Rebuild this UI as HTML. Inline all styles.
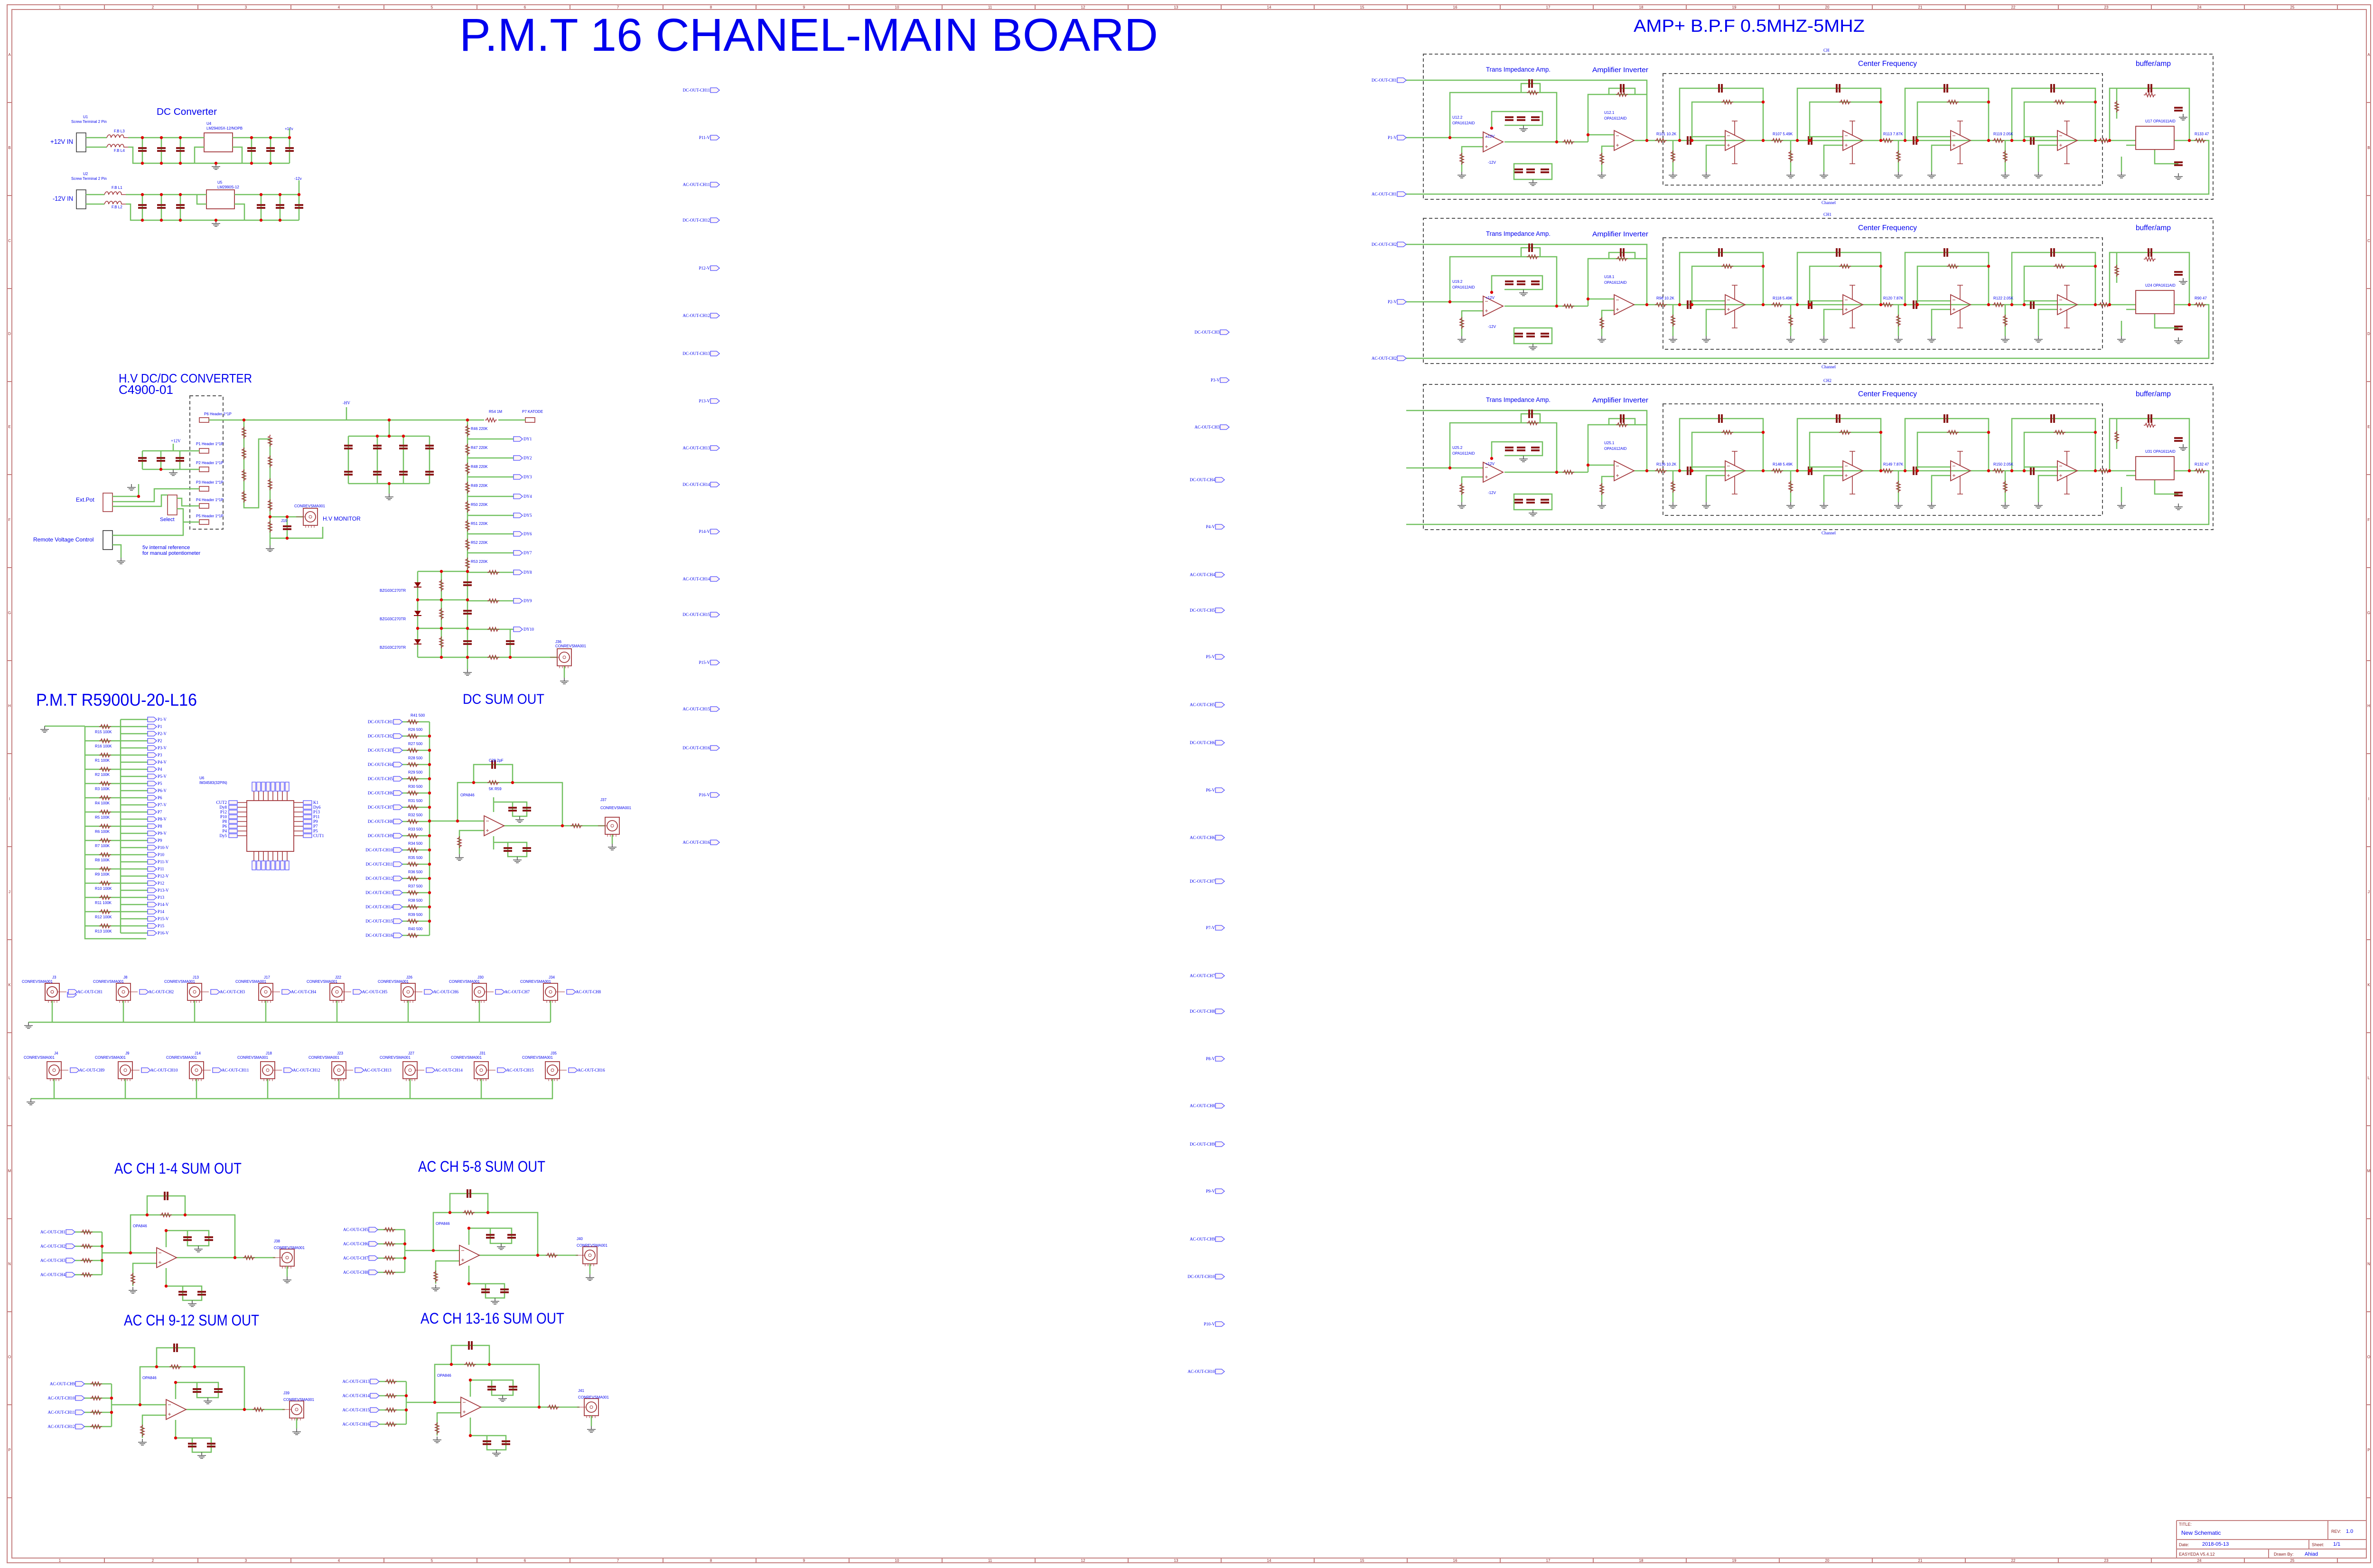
<!DOCTYPE html>
<html><head><meta charset="utf-8"><style>
html,body{margin:0;padding:0;background:#fff}
svg{display:block}
.w{stroke:#72c160;stroke-width:2.5;fill:none}
.b{stroke:#a3383c;stroke-width:1.6;fill:none}
.f{stroke:#c47f7f;stroke-width:2;fill:none}
.d{stroke:#555;stroke-width:2;fill:none;stroke-dasharray:7 5}
text{font-family:"Liberation Sans","DejaVu Sans",sans-serif;fill:#0000ee}
.s{font-size:9px;font-family:"Liberation Serif",serif}
.t{font-size:8px}
.r{fill:#8a2020}
</style></head><body>
<svg width="5010" height="3304" viewBox="0 0 5010 3304" xmlns="http://www.w3.org/2000/svg" xmlns:xlink="http://www.w3.org/1999/xlink">
<defs>
<g id="rh"><path d="M-13,0h3l2,-4l3,8l3,-8l3,8l3,-8l3,8l2,-4h3" fill="none" stroke="#a3383c" stroke-width="1.6"/></g>
<g id="rv"><path d="M0,-13v3l-4,2l8,3l-8,3l8,3l-8,3l8,3l-4,2v3" fill="none" stroke="#a3383c" stroke-width="1.6"/></g>
<g id="cp"><path d="M-3,-9v18M3,-9v18" stroke="#8b1a1a" stroke-width="4"/></g>
<g id="cv"><path d="M-9,-3h18M-9,3h18" stroke="#8b1a1a" stroke-width="4"/></g>
<g id="gnd"><path d="M0,0v7M-9,7h18M-6,10h12M-3,13h6" stroke="#555" stroke-width="1.6" fill="none"/></g>
<g id="oa"><path d="M0,-21L0,21L42,0Z" fill="none" stroke="#a3383c" stroke-width="1.8"/><path d="M4,-10h6M4,10h6M7,7v6" stroke="#a3383c"/></g>
<g id="dt"><circle r="3.2" fill="#d00"/></g>
<g id="nl"><path d="M0,-5h13l6,5l-6,5h-13z" fill="#fff4f6" stroke="#4a4aff" stroke-width="1.3"/></g>
<g id="bnc"><rect x="-15" y="-18" width="30" height="36" fill="none" stroke="#a3383c" stroke-width="1.8"/><circle r="11" fill="none" stroke="#a3383c" stroke-width="1.8"/><circle r="3" fill="none" stroke="#a3383c"/><path d="M-10,18v5M-4,18v5M2,18v5M8,18v5" stroke="#a3383c"/><path d="M-30,0h19" stroke="#a3383c"/></g>
<g id="stg">
<path class="w" d="M-96,296V186H80V296M-70,296V215H80M0,288H-70M0,306H-40V362M-110,296V362"/>
<use xlink:href="#cp" x="-10" y="186"/><use xlink:href="#rh" x="5" y="215"/><use xlink:href="#oa" x="0" y="296"/><use xlink:href="#rv" x="-110" y="330"/>
<use xlink:href="#gnd" x="-110" y="362"/><use xlink:href="#gnd" x="-40" y="362"/>
<path class="b" d="M20,286V255M20,306V345M14,255h12M14,345h12"/>
<use xlink:href="#dt" x="-96" y="296"/><use xlink:href="#dt" x="-70" y="296"/><use xlink:href="#dt" x="80" y="296"/><use xlink:href="#dt" x="80" y="215"/>
</g>
<g id="chg">
<rect class="d" x="2999" y="114" width="1664" height="306"/>
<rect class="d" x="3504" y="155" width="926" height="235"/>
<path class="w" d="M2963,169H3470V296M2963,290H3125M2963,409H4654V296H4630M3055,290V195H3280V299M3205,195V176H3245V195M3170,299H3346M3143,270V235H3250V264H3170M3190,345H3270V378H3190ZM3125,309H3080V362M3346,299V284H3401M3346,284V199H3470M3390,199V186H3445V199M3401,308H3375V362M3442,296H4500M4581,296H4654M4445,296V186H4613V296M4460,186V250M4470,330V362M4480,306H4500M4540,315V345H4590"/>
<use xlink:href="#oa" x="3125" y="299"/><use xlink:href="#oa" x="3401" y="296"/>
<use xlink:href="#cp" x="3225" y="176"/><use xlink:href="#rh" x="3230" y="195"/><use xlink:href="#rh" x="3305" y="299"/>
<use xlink:href="#cv" x="3180" y="250"/><use xlink:href="#cv" x="3205" y="250"/><use xlink:href="#cv" x="3235" y="250"/>
<use xlink:href="#cv" x="3200" y="360"/><use xlink:href="#cv" x="3225" y="360"/><use xlink:href="#cv" x="3255" y="360"/>
<use xlink:href="#rv" x="3080" y="335"/><use xlink:href="#gnd" x="3080" y="362"/><use xlink:href="#rv" x="3375" y="335"/><use xlink:href="#gnd" x="3375" y="362"/>
<use xlink:href="#cp" x="3418" y="186"/><use xlink:href="#rh" x="3418" y="199"/>
<use xlink:href="#gnd" x="3210" y="264"/><use xlink:href="#gnd" x="3230" y="378"/>
<use xlink:href="#rh" x="3500" y="296"/><use xlink:href="#cp" x="3559" y="296"/><use xlink:href="#rh" x="3745" y="296"/><use xlink:href="#cp" x="3814" y="296"/>
<use xlink:href="#rh" x="3977" y="296"/><use xlink:href="#cp" x="4035" y="296"/><use xlink:href="#rh" x="4211" y="296"/><use xlink:href="#cp" x="4282" y="296"/>
<use xlink:href="#rh" x="4434" y="296"/><use xlink:href="#rh" x="4636" y="296"/>
<use xlink:href="#stg" x="3635"/><use xlink:href="#stg" x="3883"/><use xlink:href="#stg" x="4110"/><use xlink:href="#stg" x="4335"/>
<rect x="4500" y="266" width="81" height="49" fill="none" stroke="#a3383c" stroke-width="1.8"/>
<use xlink:href="#cp" x="4530" y="186"/><use xlink:href="#rh" x="4530" y="200"/><use xlink:href="#rv" x="4460" y="225"/><use xlink:href="#cv" x="4590" y="230"/>
<use xlink:href="#gnd" x="4470" y="362"/><use xlink:href="#cv" x="4590" y="345"/><use xlink:href="#gnd" x="4590" y="365"/><use xlink:href="#gnd" x="4600" y="240"/>
<use xlink:href="#dt" x="3055" y="290"/><use xlink:href="#dt" x="3280" y="299"/><use xlink:href="#dt" x="3470" y="296"/><use xlink:href="#dt" x="3346" y="284"/><use xlink:href="#dt" x="4445" y="296"/><use xlink:href="#dt" x="4613" y="296"/><use xlink:href="#dt" x="3143" y="270"/>
</g>
<g id="sum">
<path class="w" d="M158,2596H215M158,2626H215M158,2656H215M158,2686H215M215,2596V2686M215,2640H330M275,2640V2560H495V2650M310,2560V2520H390V2560M330,2662H280V2710M370,2650H580M350,2628V2593H440V2625H395V2593M350,2672V2710H425V2740H385V2710"/>
<use xlink:href="#rh" x="183" y="2596"/><use xlink:href="#rh" x="183" y="2626"/><use xlink:href="#rh" x="183" y="2656"/><use xlink:href="#rh" x="183" y="2686"/>
<use xlink:href="#cp" x="350" y="2520"/><use xlink:href="#rh" x="350" y="2560"/><use xlink:href="#oa" x="330" y="2650"/>
<use xlink:href="#rv" x="280" y="2695"/><use xlink:href="#gnd" x="280" y="2712"/><use xlink:href="#rh" x="525" y="2650"/>
<use xlink:href="#cv" x="395" y="2610"/><use xlink:href="#cv" x="440" y="2610"/><use xlink:href="#gnd" x="418" y="2625"/>
<use xlink:href="#cv" x="385" y="2725"/><use xlink:href="#cv" x="425" y="2725"/><use xlink:href="#gnd" x="405" y="2740"/>
<use xlink:href="#bnc" x="605" y="2650"/><path class="w" d="M605,2668V2690"/><use xlink:href="#gnd" x="605" y="2690"/>
<use xlink:href="#dt" x="215" y="2626"/><use xlink:href="#dt" x="215" y="2656"/><use xlink:href="#dt" x="275" y="2640"/><use xlink:href="#dt" x="310" y="2560"/><use xlink:href="#dt" x="390" y="2560"/><use xlink:href="#dt" x="495" y="2650"/><use xlink:href="#dt" x="350" y="2593"/><use xlink:href="#dt" x="350" y="2710"/>
<use xlink:href="#nl" x="139" y="2596"/><use xlink:href="#nl" x="139" y="2626"/><use xlink:href="#nl" x="139" y="2656"/><use xlink:href="#nl" x="139" y="2686"/>
</g>
</defs>

<!-- frame -->
<rect class="f" x="15" y="10" width="4980" height="3283"/>
<rect class="f" x="25" y="20" width="4961" height="3263"/>
<path class="f" stroke-width="1.5" d="M220,10v10M417,10v10M613,10v10M809,10v10M1005,10v10M1201,10v10M1397,10v10M1593,10v10M1789,10v10M1985,10v10M2181,10v10M2377,10v10M2573,10v10M2769,10v10M2965,10v10M3161,10v10M3357,10v10M3553,10v10M3749,10v10M3945,10v10M4141,10v10M4337,10v10M4533,10v10M4729,10v10M4925,10v10
M220,3283v10M417,3283v10M613,3283v10M809,3283v10M1005,3283v10M1201,3283v10M1397,3283v10M1593,3283v10M1789,3283v10M1985,3283v10M2181,3283v10M2377,3283v10M2573,3283v10M2769,3283v10M2965,3283v10M3161,3283v10M3357,3283v10M3553,3283v10M3749,3283v10M3945,3283v10M4141,3283v10M4337,3283v10M4533,3283v10M4729,3283v10M4925,3283v10
M15,216h10M15,412h10M15,608h10M15,804h10M15,1000h10M15,1196h10M15,1392h10M15,1588h10M15,1784h10M15,1980h10M15,2176h10M15,2372h10M15,2568h10M15,2764h10M15,2960h10M15,3156h10
M4986,216h9M4986,412h9M4986,608h9M4986,804h9M4986,1000h9M4986,1196h9M4986,1392h9M4986,1588h9M4986,1784h9M4986,1980h9M4986,2176h9M4986,2372h9M4986,2568h9M4986,2764h9M4986,2960h9M4986,3156h9"/>
<g class="r" font-size="8" text-anchor="middle">
<text class="r" x="126" y="18" font-size="8">1</text><text class="r" x="322" y="18" font-size="8">2</text><text class="r" x="518" y="18" font-size="8">3</text><text class="r" x="714" y="18" font-size="8">4</text><text class="r" x="910" y="18" font-size="8">5</text><text class="r" x="1106" y="18" font-size="8">6</text><text class="r" x="1302" y="18" font-size="8">7</text><text class="r" x="1498" y="18" font-size="8">8</text><text class="r" x="1694" y="18" font-size="8">9</text><text class="r" x="1890" y="18" font-size="8">10</text><text class="r" x="2086" y="18" font-size="8">11</text><text class="r" x="2282" y="18" font-size="8">12</text><text class="r" x="2478" y="18" font-size="8">13</text><text class="r" x="2674" y="18" font-size="8">14</text><text class="r" x="2870" y="18" font-size="8">15</text><text class="r" x="3066" y="18" font-size="8">16</text><text class="r" x="3262" y="18" font-size="8">17</text><text class="r" x="3458" y="18" font-size="8">18</text><text class="r" x="3654" y="18" font-size="8">19</text><text class="r" x="3850" y="18" font-size="8">20</text><text class="r" x="4046" y="18" font-size="8">21</text><text class="r" x="4242" y="18" font-size="8">22</text><text class="r" x="4438" y="18" font-size="8">23</text><text class="r" x="4634" y="18" font-size="8">24</text><text class="r" x="4830" y="18" font-size="8">25</text>
<text class="r" x="126" y="3291" font-size="8">1</text><text class="r" x="322" y="3291" font-size="8">2</text><text class="r" x="518" y="3291" font-size="8">3</text><text class="r" x="714" y="3291" font-size="8">4</text><text class="r" x="910" y="3291" font-size="8">5</text><text class="r" x="1106" y="3291" font-size="8">6</text><text class="r" x="1302" y="3291" font-size="8">7</text><text class="r" x="1498" y="3291" font-size="8">8</text><text class="r" x="1694" y="3291" font-size="8">9</text><text class="r" x="1890" y="3291" font-size="8">10</text><text class="r" x="2086" y="3291" font-size="8">11</text><text class="r" x="2282" y="3291" font-size="8">12</text><text class="r" x="2478" y="3291" font-size="8">13</text><text class="r" x="2674" y="3291" font-size="8">14</text><text class="r" x="2870" y="3291" font-size="8">15</text><text class="r" x="3066" y="3291" font-size="8">16</text><text class="r" x="3262" y="3291" font-size="8">17</text><text class="r" x="3458" y="3291" font-size="8">18</text><text class="r" x="3654" y="3291" font-size="8">19</text><text class="r" x="3850" y="3291" font-size="8">20</text><text class="r" x="4046" y="3291" font-size="8">21</text><text class="r" x="4242" y="3291" font-size="8">22</text><text class="r" x="4438" y="3291" font-size="8">23</text><text class="r" x="4634" y="3291" font-size="8">24</text><text class="r" x="4830" y="3291" font-size="8">25</text>
<text class="r" x="20" y="118" font-size="8">A</text><text class="r" x="20" y="314" font-size="8">B</text><text class="r" x="20" y="510" font-size="8">C</text><text class="r" x="20" y="706" font-size="8">D</text><text class="r" x="20" y="902" font-size="8">E</text><text class="r" x="20" y="1098" font-size="8">F</text><text class="r" x="20" y="1294" font-size="8">G</text><text class="r" x="20" y="1490" font-size="8">H</text><text class="r" x="20" y="1686" font-size="8">I</text><text class="r" x="20" y="1882" font-size="8">J</text><text class="r" x="20" y="2078" font-size="8">K</text><text class="r" x="20" y="2274" font-size="8">L</text><text class="r" x="20" y="2470" font-size="8">M</text><text class="r" x="20" y="2666" font-size="8">N</text><text class="r" x="20" y="2862" font-size="8">O</text><text class="r" x="20" y="3058" font-size="8">P</text>
<text class="r" x="4991" y="118" font-size="8">A</text><text class="r" x="4991" y="314" font-size="8">B</text><text class="r" x="4991" y="510" font-size="8">C</text><text class="r" x="4991" y="706" font-size="8">D</text><text class="r" x="4991" y="902" font-size="8">E</text><text class="r" x="4991" y="1098" font-size="8">F</text><text class="r" x="4991" y="1294" font-size="8">G</text><text class="r" x="4991" y="1490" font-size="8">H</text><text class="r" x="4991" y="1686" font-size="8">I</text><text class="r" x="4991" y="1882" font-size="8">J</text><text class="r" x="4991" y="2078" font-size="8">K</text><text class="r" x="4991" y="2274" font-size="8">L</text><text class="r" x="4991" y="2470" font-size="8">M</text><text class="r" x="4991" y="2666" font-size="8">N</text><text class="r" x="4991" y="2862" font-size="8">O</text><text class="r" x="4991" y="3058" font-size="8">P</text>
</g>

<!-- title block -->
<path class="f" d="M4586,3204H4986M4586,3244H4986M4586,3264H4986M4586,3204V3283M4905,3204V3244M4865,3244V3264M4780,3264V3283"/>
<text class="r" x="4591" y="3215" font-size="9">TITLE:</text>
<text x="4596" y="3234" font-size="12">New Schematic</text>
<text class="r" x="4912" y="3230" font-size="9">REV:</text><text x="4943" y="3230" font-size="11">1.0</text>
<text class="r" x="4591" y="3258" font-size="9">Date:</text><text x="4640" y="3257" font-size="11">2018-05-13</text>
<text class="r" x="4871" y="3258" font-size="9">Sheet:</text><text x="4916" y="3257" font-size="11">1/1</text>
<text class="r" x="4591" y="3278" font-size="9">EASYEDA V5.4.12</text>
<text class="r" x="4791" y="3278" font-size="9">Drawn By:</text><text x="4856" y="3278" font-size="11">Ahiad</text>

<!-- main titles -->
<text x="968" y="107" font-size="97" textLength="1472" lengthAdjust="spacingAndGlyphs">P.M.T 16 CHANEL-MAIN BOARD</text>
<text x="3442" y="67" font-size="37" textLength="487" lengthAdjust="spacingAndGlyphs">AMP+ B.P.F 0.5MHZ-5MHZ</text>

<!-- DC converter -->
<text x="330" y="242" font-size="20" textLength="127" lengthAdjust="spacingAndGlyphs">DC Converter</text>
<text x="106" y="303" font-size="14" textLength="48" lengthAdjust="spacingAndGlyphs">+12V IN</text>
<text x="111" y="423" font-size="14" textLength="43" lengthAdjust="spacingAndGlyphs">-12V IN</text>
<text class="t" x="175" y="249">U1</text><text class="t" x="150" y="259">Screw Terminal 2 Pin</text>
<text class="t" x="175" y="369">U2</text><text class="t" x="150" y="379">Screw Terminal 2 Pin</text>
<text class="t" x="435" y="263">U4</text><text class="t" x="435" y="273">LM2940SX-12/NOPB</text>
<text class="t" x="458" y="387">U5</text><text class="t" x="458" y="397">LM2990S-12</text>
<text class="t" x="600" y="274">+12v</text><text class="t" x="620" y="379">-12v</text>
<text class="t" x="240" y="279">F.B L3</text><text class="t" x="240" y="320">F.B L4</text><text class="t" x="235" y="398">F.B L1</text><text class="t" x="235" y="439">F.B L2</text>
<rect x="161" y="280" width="20" height="40" fill="none" stroke="#333" stroke-width="1.5"/>
<rect x="161" y="400" width="20" height="40" fill="none" stroke="#333" stroke-width="1.5"/>
<rect x="430" y="280" width="60" height="40" fill="none" stroke="#a3383c" stroke-width="1.8"/>
<rect x="435" y="400" width="59" height="40" fill="none" stroke="#a3383c" stroke-width="1.8"/>
<path class="w" d="M181,290H225M270,290H430M181,310H225M270,310H280V344H610M300,290V344M340,290V344M380,290V344M430,310H410V344M490,290H610V270M490,310H510V344M530,290V344M570,290V344M610,290V344
M181,410H220M265,410H435M181,430H220M265,430H275V464H630M300,410V464M340,410V464M380,410V464M435,430H415V410M494,410H630V380M494,430H515V464M550,410V464M590,410V464M630,410V464"/>
<path class="b" d="M225,290c3,-8 8,-8 9,0c3,-8 8,-8 9,0c3,-8 8,-8 9,0c3,-8 8,-8 9,0h9M225,310c3,-8 8,-8 9,0c3,-8 8,-8 9,0c3,-8 8,-8 9,0c3,-8 8,-8 9,0h9M220,410c3,-8 8,-8 9,0c3,-8 8,-8 9,0c3,-8 8,-8 9,0c3,-8 8,-8 9,0h9M220,430c3,-8 8,-8 9,0c3,-8 8,-8 9,0c3,-8 8,-8 9,0c3,-8 8,-8 9,0h9"/>
<use xlink:href="#cv" x="300" y="315"/><use xlink:href="#cv" x="340" y="315"/><use xlink:href="#cv" x="380" y="315"/><use xlink:href="#cv" x="530" y="315"/><use xlink:href="#cv" x="570" y="315"/><use xlink:href="#cv" x="610" y="315"/>
<use xlink:href="#cv" x="300" y="435"/><use xlink:href="#cv" x="340" y="435"/><use xlink:href="#cv" x="380" y="435"/><use xlink:href="#cv" x="550" y="435"/><use xlink:href="#cv" x="590" y="435"/><use xlink:href="#cv" x="630" y="435"/>
<use xlink:href="#gnd" x="455" y="344"/><use xlink:href="#gnd" x="455" y="464"/>
<use xlink:href="#dt" x="300" y="290"/><use xlink:href="#dt" x="340" y="290"/><use xlink:href="#dt" x="380" y="290"/><use xlink:href="#dt" x="530" y="290"/><use xlink:href="#dt" x="570" y="290"/><use xlink:href="#dt" x="610" y="290"/><use xlink:href="#dt" x="300" y="344"/><use xlink:href="#dt" x="340" y="344"/><use xlink:href="#dt" x="380" y="344"/><use xlink:href="#dt" x="455" y="344"/><use xlink:href="#dt" x="530" y="344"/><use xlink:href="#dt" x="570" y="344"/>
<use xlink:href="#dt" x="300" y="410"/><use xlink:href="#dt" x="340" y="410"/><use xlink:href="#dt" x="380" y="410"/><use xlink:href="#dt" x="550" y="410"/><use xlink:href="#dt" x="590" y="410"/><use xlink:href="#dt" x="630" y="410"/><use xlink:href="#dt" x="300" y="464"/><use xlink:href="#dt" x="340" y="464"/><use xlink:href="#dt" x="380" y="464"/><use xlink:href="#dt" x="455" y="464"/><use xlink:href="#dt" x="550" y="464"/><use xlink:href="#dt" x="590" y="464"/>

<!-- HV DC/DC -->
<text x="250" y="806" font-size="26" textLength="281" lengthAdjust="spacingAndGlyphs">H.V DC/DC CONVERTER</text>
<text x="250" y="830" font-size="26" textLength="115" lengthAdjust="spacingAndGlyphs">C4900-01</text>
<rect class="d" stroke-width="1.5" x="400" y="834" width="70" height="281"/>
<g fill="none" stroke="#a3383c" stroke-width="1.6"><rect x="420" y="880" width="20" height="10"/><rect x="420" y="945" width="20" height="10"/><rect x="420" y="984" width="20" height="10"/><rect x="420" y="1025" width="20" height="10"/><rect x="420" y="1061" width="20" height="10"/><rect x="420" y="1095" width="20" height="10"/><rect x="1107" y="880" width="20" height="10"/>
<rect x="217" y="1039" width="20" height="39"/><rect x="353" y="1043" width="20" height="42"/><rect x="217" y="1118" width="20" height="40" stroke="#333"/></g>
<path class="w" d="M440,885H1020M1050,885H1107M300,950H420M300,989H420M300,950V989M339,950V989M379,950V989M365,950V935M237,1046H292V1020M237,1057H325V1030H420M237,1067H340V1043H353M373,1050H383V1066H420M373,1072H386V1100H420M237,1128H386V1100M237,1148H255V1175
M514,885V1070H545V925H569V1149M569,1089H640M605,1089V1134M569,1134H680V1110
M734,919H905M734,1019H905M734,919V1019M795,919V1019M850,919V1019M905,919V1019M820,885V919M820,1019V1040
M985,885V1385M985,925H1082M985,965H1082M985,1005H1082M985,1046H1082M985,1086H1082M985,1125H1082M985,1165H1082M985,1206H1082M985,1266H1082M985,1326H1082
M880,1204V1385M880,1204H985M880,1264H985M880,1324H985M880,1385H1175M930,1204V1385M1075,1326V1385M985,1385V1410M1189,1403V1428M730,858V885"/>
<use xlink:href="#cv" x="300" y="968"/><use xlink:href="#cv" x="339" y="968"/><use xlink:href="#cv" x="379" y="968"/><use xlink:href="#gnd" x="365" y="989"/><use xlink:href="#gnd" x="277" y="1020"/><use xlink:href="#gnd" x="255" y="1175"/>
<use xlink:href="#rv" x="514" y="912"/><use xlink:href="#rv" x="514" y="956"/><use xlink:href="#rv" x="514" y="1002"/><use xlink:href="#rv" x="514" y="1047"/>
<use xlink:href="#rv" x="569" y="929"/><use xlink:href="#rv" x="569" y="973"/><use xlink:href="#rv" x="569" y="1021"/><use xlink:href="#rv" x="569" y="1065"/><use xlink:href="#rv" x="569" y="1110"/><use xlink:href="#gnd" x="569" y="1149"/>
<use xlink:href="#cv" x="605" y="1112"/><use xlink:href="#bnc" x="654" y="1089"/><use xlink:href="#rh" x="1035" y="885"/>
<use xlink:href="#cv" x="734" y="942"/><use xlink:href="#cv" x="795" y="942"/><use xlink:href="#cv" x="850" y="942"/><use xlink:href="#cv" x="905" y="942"/><use xlink:href="#cv" x="734" y="997"/><use xlink:href="#cv" x="795" y="997"/><use xlink:href="#cv" x="850" y="997"/><use xlink:href="#cv" x="905" y="997"/><use xlink:href="#gnd" x="820" y="1040"/>
<use xlink:href="#rv" x="985" y="908"/><use xlink:href="#rv" x="985" y="948"/><use xlink:href="#rv" x="985" y="988"/><use xlink:href="#rv" x="985" y="1028"/><use xlink:href="#rv" x="985" y="1068"/><use xlink:href="#rv" x="985" y="1108"/><use xlink:href="#rv" x="985" y="1148"/><use xlink:href="#rv" x="985" y="1188"/>
<use xlink:href="#rh" x="1040" y="1206"/><use xlink:href="#rh" x="1040" y="1266"/><use xlink:href="#rh" x="1040" y="1326"/><use xlink:href="#rh" x="1040" y="1385"/>
<use xlink:href="#rv" x="930" y="1234"/><use xlink:href="#rv" x="930" y="1294"/><use xlink:href="#rv" x="930" y="1354"/><use xlink:href="#cv" x="985" y="1230"/><use xlink:href="#cv" x="985" y="1290"/><use xlink:href="#cv" x="985" y="1354"/><use xlink:href="#cv" x="1075" y="1354"/>
<path d="M873,1227h14l-7,10zM873,1287h14l-7,10zM873,1347h14l-7,10z" fill="#8b0000"/><path d="M872,1237h16M872,1297h16M872,1357h16" stroke="#8b0000" stroke-width="2"/>
<use xlink:href="#bnc" x="1189" y="1385"/><use xlink:href="#gnd" x="985" y="1410"/><use xlink:href="#gnd" x="1189" y="1428"/>
<use xlink:href="#nl" x="1082" y="925"/><use xlink:href="#nl" x="1082" y="965"/><use xlink:href="#nl" x="1082" y="1005"/><use xlink:href="#nl" x="1082" y="1046"/><use xlink:href="#nl" x="1082" y="1086"/><use xlink:href="#nl" x="1082" y="1125"/><use xlink:href="#nl" x="1082" y="1165"/><use xlink:href="#nl" x="1082" y="1206"/><use xlink:href="#nl" x="1082" y="1266"/><use xlink:href="#nl" x="1082" y="1326"/>
<g class="s"><text class="s" x="1103" y="928">DY1</text><text class="s" x="1103" y="968">DY2</text><text class="s" x="1103" y="1008">DY3</text><text class="s" x="1103" y="1049">DY4</text><text class="s" x="1103" y="1089">DY5</text><text class="s" x="1103" y="1128">DY6</text><text class="s" x="1103" y="1168">DY7</text><text class="s" x="1103" y="1209">DY8</text><text class="s" x="1103" y="1269">DY9</text><text class="s" x="1103" y="1329">DY10</text><text class="s" x="722" y="852">-HV</text><text class="s" x="360" y="932">+12V</text></g>
<use xlink:href="#dt" x="514" y="885"/><use xlink:href="#dt" x="820" y="885"/><use xlink:href="#dt" x="985" y="885"/><use xlink:href="#dt" x="820" y="919"/><use xlink:href="#dt" x="795" y="919"/><use xlink:href="#dt" x="850" y="919"/><use xlink:href="#dt" x="820" y="1019"/><use xlink:href="#dt" x="985" y="1204"/><use xlink:href="#dt" x="985" y="1264"/><use xlink:href="#dt" x="985" y="1324"/><use xlink:href="#dt" x="985" y="1385"/><use xlink:href="#dt" x="930" y="1204"/><use xlink:href="#dt" x="930" y="1264"/><use xlink:href="#dt" x="930" y="1324"/><use xlink:href="#dt" x="930" y="1385"/><use xlink:href="#dt" x="880" y="1264"/><use xlink:href="#dt" x="880" y="1324"/><use xlink:href="#dt" x="569" y="1089"/><use xlink:href="#dt" x="605" y="1089"/><use xlink:href="#dt" x="605" y="1134"/><use xlink:href="#dt" x="339" y="989"/><use xlink:href="#dt" x="292" y="1046"/><use xlink:href="#dt" x="1075" y="1385"/>
<g class="t"><text class="t" x="592" y="1100">J19</text><text class="t" x="620" y="1069">CONREVSMA001</text><text class="t" x="1170" y="1355">J36</text><text class="t" x="1170" y="1364">CONREVSMA001</text><text class="t" x="1030" y="870">R54 1M</text><text class="t" x="1100" y="870">P7 KATODE</text><text class="t" x="430" y="875">P6 Header 1*1P</text><text class="t" x="413" y="938">P1 Header 1*1P</text><text class="t" x="413" y="978">P2 Header 1*1P</text><text class="t" x="413" y="1019">P3 Header 1*1P</text><text class="t" x="413" y="1056">P4 Header 1*1P</text><text class="t" x="413" y="1090">P5 Header 1*1P</text>
<text class="t" x="800" y="1247">BZG03C270TR</text><text class="t" x="800" y="1307">BZG03C270TR</text><text class="t" x="800" y="1367">BZG03C270TR</text><text class="t" x="992" y="906">R46 220K</text><text class="t" x="992" y="946">R47 220K</text><text class="t" x="992" y="986">R48 220K</text><text class="t" x="992" y="1026">R49 220K</text><text class="t" x="992" y="1066">R50 220K</text><text class="t" x="992" y="1106">R51 220K</text><text class="t" x="992" y="1146">R52 220K</text><text class="t" x="992" y="1186">R53 220K</text></g>
<text x="680" y="1097" font-size="12">H.V MONITOR</text>
<text x="160" y="1057" font-size="12">Ext.Pot</text>
<text x="337" y="1098" font-size="11">Select</text>
<text x="70" y="1141" font-size="12">Remote Voltage Control</text>
<text x="300" y="1157" font-size="11">5v internal reference</text>
<text x="300" y="1169" font-size="11">for manual potentiometer</text>

<!-- PMT -->
<text x="76" y="1487" font-size="36" textLength="339" lengthAdjust="spacingAndGlyphs">P.M.T R5900U-20-L16</text>
<path class="w" d="M94,1530H179M179,1530V1978H308M254,1516V1966
M179,1531H254M179,1561H254M179,1591H254M179,1621H254M179,1651H254M179,1681H254M179,1711H254M179,1741H254M179,1771H254M179,1801H254M179,1831H254M179,1861H254M179,1891H254M179,1921H254M179,1951H254
M254,1516H311M254,1531H311M254,1546H311M254,1561H311M254,1576H311M254,1591H311M254,1606H311M254,1621H311M254,1636H311M254,1651H311M254,1666H311M254,1681H311M254,1696H311M254,1711H311M254,1726H311M254,1741H311M254,1756H311M254,1771H311M254,1786H311M254,1801H311M254,1816H311M254,1831H311M254,1846H311M254,1861H311M254,1876H311M254,1891H311M254,1906H311M254,1921H311M254,1936H311M254,1951H311M254,1966H311"/>
<use xlink:href="#gnd" x="94" y="1530"/>
<g><use xlink:href="#rh" x="222" y="1531"/><use xlink:href="#rh" x="222" y="1561"/><use xlink:href="#rh" x="222" y="1591"/><use xlink:href="#rh" x="222" y="1621"/><use xlink:href="#rh" x="222" y="1651"/><use xlink:href="#rh" x="222" y="1681"/><use xlink:href="#rh" x="222" y="1711"/><use xlink:href="#rh" x="222" y="1741"/><use xlink:href="#rh" x="222" y="1771"/><use xlink:href="#rh" x="222" y="1801"/><use xlink:href="#rh" x="222" y="1831"/><use xlink:href="#rh" x="222" y="1861"/><use xlink:href="#rh" x="222" y="1891"/><use xlink:href="#rh" x="222" y="1921"/><use xlink:href="#rh" x="222" y="1951"/></g>
<g><use xlink:href="#nl" x="311" y="1516"/><use xlink:href="#nl" x="311" y="1531"/><use xlink:href="#nl" x="311" y="1546"/><use xlink:href="#nl" x="311" y="1561"/><use xlink:href="#nl" x="311" y="1576"/><use xlink:href="#nl" x="311" y="1591"/><use xlink:href="#nl" x="311" y="1606"/><use xlink:href="#nl" x="311" y="1621"/><use xlink:href="#nl" x="311" y="1636"/><use xlink:href="#nl" x="311" y="1651"/><use xlink:href="#nl" x="311" y="1666"/><use xlink:href="#nl" x="311" y="1681"/><use xlink:href="#nl" x="311" y="1696"/><use xlink:href="#nl" x="311" y="1711"/><use xlink:href="#nl" x="311" y="1726"/><use xlink:href="#nl" x="311" y="1741"/><use xlink:href="#nl" x="311" y="1756"/><use xlink:href="#nl" x="311" y="1771"/><use xlink:href="#nl" x="311" y="1786"/><use xlink:href="#nl" x="311" y="1801"/><use xlink:href="#nl" x="311" y="1816"/><use xlink:href="#nl" x="311" y="1831"/><use xlink:href="#nl" x="311" y="1846"/><use xlink:href="#nl" x="311" y="1861"/><use xlink:href="#nl" x="311" y="1876"/><use xlink:href="#nl" x="311" y="1891"/><use xlink:href="#nl" x="311" y="1906"/><use xlink:href="#nl" x="311" y="1921"/><use xlink:href="#nl" x="311" y="1936"/><use xlink:href="#nl" x="311" y="1951"/><use xlink:href="#nl" x="311" y="1966"/></g>
<g class="s"><text class="s" x="332" y="1519">P1-V</text><text class="s" x="332" y="1534">P1</text><text class="s" x="332" y="1549">P2-V</text><text class="s" x="332" y="1564">P2</text><text class="s" x="332" y="1579">P3-V</text><text class="s" x="332" y="1594">P3</text><text class="s" x="332" y="1609">P4-V</text><text class="s" x="332" y="1624">P4</text><text class="s" x="332" y="1639">P5-V</text><text class="s" x="332" y="1654">P5</text><text class="s" x="332" y="1669">P6-V</text><text class="s" x="332" y="1684">P6</text><text class="s" x="332" y="1699">P7-V</text><text class="s" x="332" y="1714">P7</text><text class="s" x="332" y="1729">P8-V</text><text class="s" x="332" y="1744">P8</text><text class="s" x="332" y="1759">P9-V</text><text class="s" x="332" y="1774">P9</text><text class="s" x="332" y="1789">P10-V</text><text class="s" x="332" y="1804">P10</text><text class="s" x="332" y="1819">P11-V</text><text class="s" x="332" y="1834">P11</text><text class="s" x="332" y="1849">P12-V</text><text class="s" x="332" y="1864">P12</text><text class="s" x="332" y="1879">P13-V</text><text class="s" x="332" y="1894">P13</text><text class="s" x="332" y="1909">P14-V</text><text class="s" x="332" y="1924">P14</text><text class="s" x="332" y="1939">P15-V</text><text class="s" x="332" y="1954">P15</text><text class="s" x="332" y="1969">P16-V</text></g>
<g class="t"><text class="t" x="200" y="1545">R15 100K</text><text class="t" x="200" y="1575">R16 100K</text><text class="t" x="200" y="1605">R1 100K</text><text class="t" x="200" y="1635">R2 100K</text><text class="t" x="200" y="1665">R3 100K</text><text class="t" x="200" y="1695">R4 100K</text><text class="t" x="200" y="1725">R5 100K</text><text class="t" x="200" y="1755">R6 100K</text><text class="t" x="200" y="1785">R7 100K</text><text class="t" x="200" y="1815">R8 100K</text><text class="t" x="200" y="1845">R9 100K</text><text class="t" x="200" y="1875">R10 100K</text><text class="t" x="200" y="1905">R11 100K</text><text class="t" x="200" y="1935">R12 100K</text><text class="t" x="200" y="1965">R13 100K</text></g>
<!-- U6 chip -->
<rect x="520" y="1687" width="99" height="107" fill="none" stroke="#a3383c" stroke-width="1.8"/>
<path class="b" d="M520,1691h-20M520,1701h-20M520,1711h-20M520,1721h-20M520,1731h-20M520,1741h-20M520,1751h-20M520,1761h-20M619,1691h20M619,1701h20M619,1711h20M619,1721h20M619,1731h20M619,1741h20M619,1751h20M619,1761h20M535,1687v-20M545,1687v-20M555,1687v-20M565,1687v-20M575,1687v-20M585,1687v-20M595,1687v-20M605,1687v-20M535,1794v20M545,1794v20M555,1794v20M565,1794v20M575,1794v20M585,1794v20M595,1794v20M605,1794v20"/>
<g fill="#fff4f6" stroke="#4a4aff" stroke-width="1.2"><rect x="482" y="1687" width="18" height="8"/><rect x="482" y="1697" width="18" height="8"/><rect x="482" y="1707" width="18" height="8"/><rect x="482" y="1717" width="18" height="8"/><rect x="482" y="1727" width="18" height="8"/><rect x="482" y="1737" width="18" height="8"/><rect x="482" y="1747" width="18" height="8"/><rect x="482" y="1757" width="18" height="8"/><rect x="639" y="1687" width="18" height="8"/><rect x="639" y="1697" width="18" height="8"/><rect x="639" y="1707" width="18" height="8"/><rect x="639" y="1717" width="18" height="8"/><rect x="639" y="1727" width="18" height="8"/><rect x="639" y="1737" width="18" height="8"/><rect x="639" y="1747" width="18" height="8"/><rect x="639" y="1757" width="18" height="8"/>
<rect x="531" y="1648" width="8" height="19"/><rect x="541" y="1648" width="8" height="19"/><rect x="551" y="1648" width="8" height="19"/><rect x="561" y="1648" width="8" height="19"/><rect x="571" y="1648" width="8" height="19"/><rect x="581" y="1648" width="8" height="19"/><rect x="591" y="1648" width="8" height="19"/><rect x="601" y="1648" width="8" height="19"/>
<rect x="531" y="1814" width="8" height="19"/><rect x="541" y="1814" width="8" height="19"/><rect x="551" y="1814" width="8" height="19"/><rect x="561" y="1814" width="8" height="19"/><rect x="571" y="1814" width="8" height="19"/><rect x="581" y="1814" width="8" height="19"/><rect x="591" y="1814" width="8" height="19"/><rect x="601" y="1814" width="8" height="19"/></g>
<text class="t" x="420" y="1642">U6</text><text class="t" x="420" y="1652">IM34583(32PIN)</text>
<g class="s" font-size="8"><text class="s" x="478" y="1694" text-anchor="end">CUT2</text><text class="s" x="478" y="1704" text-anchor="end">Dy8</text><text class="s" x="478" y="1714" text-anchor="end">P12</text><text class="s" x="478" y="1724" text-anchor="end">P10</text><text class="s" x="478" y="1734" text-anchor="end">P8</text><text class="s" x="478" y="1744" text-anchor="end">P6</text><text class="s" x="478" y="1754" text-anchor="end">P4</text><text class="s" x="478" y="1764" text-anchor="end">Dy5</text><text class="s" x="660" y="1694">K1</text><text class="s" x="660" y="1704">Dy6</text><text class="s" x="660" y="1714">P13</text><text class="s" x="660" y="1724">P11</text><text class="s" x="660" y="1734">P9</text><text class="s" x="660" y="1744">P7</text><text class="s" x="660" y="1754">P5</text><text class="s" x="660" y="1764">CUT1</text></g>

<!-- DC SUM OUT -->
<text x="975" y="1483" font-size="30" textLength="172" lengthAdjust="spacingAndGlyphs">DC SUM OUT</text>
<path class="w" d="M848,1521H905M848,1551H905M848,1581H905M848,1611H905M848,1641H905M848,1671H905M848,1701H905M848,1731H905M848,1761H905M848,1791H905M848,1821H905M848,1851H905M848,1881H905M848,1911H905M848,1941H905M848,1971H905M905,1521V1971M905,1730H1020M964,1730V1649H1185V1740M998,1649V1611H1080V1649M1020,1750H968V1800M1060,1740H1275M1040,1711V1680M1040,1690H1110V1720H1080V1690M1040,1762V1790M1040,1775H1110V1805H1070V1775M1290,1758V1778"/>
<g><use xlink:href="#rh" x="870" y="1521"/><use xlink:href="#rh" x="870" y="1551"/><use xlink:href="#rh" x="870" y="1581"/><use xlink:href="#rh" x="870" y="1611"/><use xlink:href="#rh" x="870" y="1641"/><use xlink:href="#rh" x="870" y="1671"/><use xlink:href="#rh" x="870" y="1701"/><use xlink:href="#rh" x="870" y="1731"/><use xlink:href="#rh" x="870" y="1761"/><use xlink:href="#rh" x="870" y="1791"/><use xlink:href="#rh" x="870" y="1821"/><use xlink:href="#rh" x="870" y="1851"/><use xlink:href="#rh" x="870" y="1881"/><use xlink:href="#rh" x="870" y="1911"/><use xlink:href="#rh" x="870" y="1941"/><use xlink:href="#rh" x="870" y="1971"/>
<use xlink:href="#nl" x="829" y="1521"/><use xlink:href="#nl" x="829" y="1551"/><use xlink:href="#nl" x="829" y="1581"/><use xlink:href="#nl" x="829" y="1611"/><use xlink:href="#nl" x="829" y="1641"/><use xlink:href="#nl" x="829" y="1671"/><use xlink:href="#nl" x="829" y="1701"/><use xlink:href="#nl" x="829" y="1731"/><use xlink:href="#nl" x="829" y="1761"/><use xlink:href="#nl" x="829" y="1791"/><use xlink:href="#nl" x="829" y="1821"/><use xlink:href="#nl" x="829" y="1851"/><use xlink:href="#nl" x="829" y="1881"/><use xlink:href="#nl" x="829" y="1911"/><use xlink:href="#nl" x="829" y="1941"/><use xlink:href="#nl" x="829" y="1971"/>
<use xlink:href="#dt" x="905" y="1551"/><use xlink:href="#dt" x="905" y="1581"/><use xlink:href="#dt" x="905" y="1611"/><use xlink:href="#dt" x="905" y="1641"/><use xlink:href="#dt" x="905" y="1671"/><use xlink:href="#dt" x="905" y="1701"/><use xlink:href="#dt" x="905" y="1730"/><use xlink:href="#dt" x="905" y="1761"/><use xlink:href="#dt" x="905" y="1791"/><use xlink:href="#dt" x="905" y="1821"/><use xlink:href="#dt" x="905" y="1851"/><use xlink:href="#dt" x="905" y="1881"/><use xlink:href="#dt" x="905" y="1911"/><use xlink:href="#dt" x="905" y="1941"/><use xlink:href="#dt" x="964" y="1730"/><use xlink:href="#dt" x="998" y="1649"/><use xlink:href="#dt" x="1080" y="1649"/><use xlink:href="#dt" x="1185" y="1740"/></g>
<use xlink:href="#cp" x="1040" y="1611"/><use xlink:href="#rh" x="1040" y="1649"/><use xlink:href="#oa" x="1020" y="1740"/><use xlink:href="#rv" x="968" y="1775"/><use xlink:href="#gnd" x="968" y="1800"/><use xlink:href="#rh" x="1215" y="1740"/>
<use xlink:href="#cv" x="1080" y="1705"/><use xlink:href="#cv" x="1110" y="1705"/><use xlink:href="#gnd" x="1095" y="1720"/><use xlink:href="#cv" x="1070" y="1790"/><use xlink:href="#cv" x="1110" y="1790"/><use xlink:href="#gnd" x="1090" y="1805"/>
<use xlink:href="#bnc" x="1290" y="1740"/><use xlink:href="#gnd" x="1290" y="1778"/>
<g class="s" text-anchor="end"><text class="s" x="828" y="1524" text-anchor="end">DC-OUT-CH1</text><text class="s" x="828" y="1554" text-anchor="end">DC-OUT-CH2</text><text class="s" x="828" y="1584" text-anchor="end">DC-OUT-CH3</text><text class="s" x="828" y="1614" text-anchor="end">DC-OUT-CH4</text><text class="s" x="828" y="1644" text-anchor="end">DC-OUT-CH5</text><text class="s" x="828" y="1674" text-anchor="end">DC-OUT-CH6</text><text class="s" x="828" y="1704" text-anchor="end">DC-OUT-CH7</text><text class="s" x="828" y="1734" text-anchor="end">DC-OUT-CH8</text><text class="s" x="828" y="1764" text-anchor="end">DC-OUT-CH9</text><text class="s" x="828" y="1794" text-anchor="end">DC-OUT-CH10</text><text class="s" x="828" y="1824" text-anchor="end">DC-OUT-CH11</text><text class="s" x="828" y="1854" text-anchor="end">DC-OUT-CH12</text><text class="s" x="828" y="1884" text-anchor="end">DC-OUT-CH13</text><text class="s" x="828" y="1914" text-anchor="end">DC-OUT-CH14</text><text class="s" x="828" y="1944" text-anchor="end">DC-OUT-CH15</text><text class="s" x="828" y="1974" text-anchor="end">DC-OUT-CH16</text></g>
<g class="t"><text class="t" x="865" y="1510">R41 500</text><text class="t" x="860" y="1540">R26 500</text><text class="t" x="860" y="1570">R27 500</text><text class="t" x="860" y="1600">R28 500</text><text class="t" x="860" y="1630">R29 500</text><text class="t" x="860" y="1660">R30 500</text><text class="t" x="860" y="1690">R31 500</text><text class="t" x="860" y="1720">R32 500</text><text class="t" x="860" y="1750">R33 500</text><text class="t" x="860" y="1780">R34 500</text><text class="t" x="860" y="1810">R35 500</text><text class="t" x="860" y="1840">R36 500</text><text class="t" x="860" y="1870">R37 500</text><text class="t" x="860" y="1900">R38 500</text><text class="t" x="860" y="1930">R39 500</text><text class="t" x="860" y="1960">R40 500</text>
<text class="t" x="970" y="1678">OPA846</text><text class="t" x="1030" y="1605">C28 2pF</text><text class="t" x="1265" y="1688">J37</text><text class="t" x="1265" y="1705">CONREVSMA001</text><text class="t" x="1030" y="1665">5K R59</text></g>

<!-- AC BNC rows -->
<path class="w" d="M60,2154H1160M110,2108V2154M260,2108V2154M410,2108V2154M560,2108V2154M710,2108V2154M860,2108V2154M1010,2108V2154M1160,2108V2154M65,2315H1165M114,2273V2315M264,2273V2315M414,2273V2315M564,2273V2315M714,2273V2315M864,2273V2315M1014,2273V2315M1164,2273V2315"/>
<use xlink:href="#gnd" x="60" y="2154"/><use xlink:href="#gnd" x="65" y="2315"/>
<g><use xlink:href="#bnc" x="110" y="2090" transform="translate(220,0) scale(-1,1)"/></g>
<g transform="translate(0,0)">
<use xlink:href="#bnc" x="-110" y="2090" transform="scale(-1,1)"/><use xlink:href="#bnc" x="-260" y="2090" transform="scale(-1,1)"/><use xlink:href="#bnc" x="-410" y="2090" transform="scale(-1,1)"/><use xlink:href="#bnc" x="-560" y="2090" transform="scale(-1,1)"/><use xlink:href="#bnc" x="-710" y="2090" transform="scale(-1,1)"/><use xlink:href="#bnc" x="-860" y="2090" transform="scale(-1,1)"/><use xlink:href="#bnc" x="-1010" y="2090" transform="scale(-1,1)"/><use xlink:href="#bnc" x="-1160" y="2090" transform="scale(-1,1)"/>
<use xlink:href="#bnc" x="-114" y="2255" transform="scale(-1,1)"/><use xlink:href="#bnc" x="-264" y="2255" transform="scale(-1,1)"/><use xlink:href="#bnc" x="-414" y="2255" transform="scale(-1,1)"/><use xlink:href="#bnc" x="-564" y="2255" transform="scale(-1,1)"/><use xlink:href="#bnc" x="-714" y="2255" transform="scale(-1,1)"/><use xlink:href="#bnc" x="-864" y="2255" transform="scale(-1,1)"/><use xlink:href="#bnc" x="-1014" y="2255" transform="scale(-1,1)"/><use xlink:href="#bnc" x="-1164" y="2255" transform="scale(-1,1)"/>
</g>
<g><use xlink:href="#nl" x="142" y="2096" transform="scale(1,1)"/></g>
<g>
<use xlink:href="#nl" x="144" y="2090"/><use xlink:href="#nl" x="294" y="2090"/><use xlink:href="#nl" x="444" y="2090"/><use xlink:href="#nl" x="594" y="2090"/><use xlink:href="#nl" x="744" y="2090"/><use xlink:href="#nl" x="894" y="2090"/><use xlink:href="#nl" x="1044" y="2090"/><use xlink:href="#nl" x="1194" y="2090"/>
<use xlink:href="#nl" x="148" y="2255"/><use xlink:href="#nl" x="298" y="2255"/><use xlink:href="#nl" x="448" y="2255"/><use xlink:href="#nl" x="598" y="2255"/><use xlink:href="#nl" x="748" y="2255"/><use xlink:href="#nl" x="898" y="2255"/><use xlink:href="#nl" x="1048" y="2255"/><use xlink:href="#nl" x="1198" y="2255"/>
</g>
<g class="s"><text class="s" x="163" y="2093">AC-OUT-CH1</text><text class="s" x="313" y="2093">AC-OUT-CH2</text><text class="s" x="463" y="2093">AC-OUT-CH3</text><text class="s" x="613" y="2093">AC-OUT-CH4</text><text class="s" x="763" y="2093">AC-OUT-CH5</text><text class="s" x="913" y="2093">AC-OUT-CH6</text><text class="s" x="1063" y="2093">AC-OUT-CH7</text><text class="s" x="1213" y="2093">AC-OUT-CH8</text>
<text class="s" x="167" y="2258">AC-OUT-CH9</text><text class="s" x="317" y="2258">AC-OUT-CH10</text><text class="s" x="467" y="2258">AC-OUT-CH11</text><text class="s" x="617" y="2258">AC-OUT-CH12</text><text class="s" x="767" y="2258">AC-OUT-CH13</text><text class="s" x="917" y="2258">AC-OUT-CH14</text><text class="s" x="1067" y="2258">AC-OUT-CH15</text><text class="s" x="1217" y="2258">AC-OUT-CH16</text></g>
<g class="t"><text class="t" x="110" y="2062">J3</text><text class="t" x="46" y="2071">CONREVSMA001</text><text class="t" x="260" y="2062">J8</text><text class="t" x="196" y="2071">CONREVSMA001</text><text class="t" x="406" y="2062">J13</text><text class="t" x="346" y="2071">CONREVSMA001</text><text class="t" x="556" y="2062">J17</text><text class="t" x="496" y="2071">CONREVSMA001</text><text class="t" x="706" y="2062">J22</text><text class="t" x="646" y="2071">CONREVSMA001</text><text class="t" x="856" y="2062">J26</text><text class="t" x="796" y="2071">CONREVSMA001</text><text class="t" x="1006" y="2062">J30</text><text class="t" x="946" y="2071">CONREVSMA001</text><text class="t" x="1156" y="2062">J34</text><text class="t" x="1096" y="2071">CONREVSMA001</text>
<text class="t" x="114" y="2222">J4</text><text class="t" x="50" y="2231">CONREVSMA001</text><text class="t" x="264" y="2222">J9</text><text class="t" x="200" y="2231">CONREVSMA001</text><text class="t" x="410" y="2222">J14</text><text class="t" x="350" y="2231">CONREVSMA001</text><text class="t" x="560" y="2222">J18</text><text class="t" x="500" y="2231">CONREVSMA001</text><text class="t" x="710" y="2222">J23</text><text class="t" x="650" y="2231">CONREVSMA001</text><text class="t" x="860" y="2222">J27</text><text class="t" x="800" y="2231">CONREVSMA001</text><text class="t" x="1010" y="2222">J31</text><text class="t" x="950" y="2231">CONREVSMA001</text><text class="t" x="1160" y="2222">J35</text><text class="t" x="1100" y="2231">CONREVSMA001</text></g>

<!-- AC sum circuits -->
<text x="241" y="2473" font-size="32" textLength="268" lengthAdjust="spacingAndGlyphs">AC CH 1-4 SUM OUT</text>
<text x="881" y="2469" font-size="32" textLength="268" lengthAdjust="spacingAndGlyphs">AC CH 5-8 SUM OUT</text>
<text x="261" y="2793" font-size="32" textLength="285" lengthAdjust="spacingAndGlyphs">AC CH 9-12 SUM OUT</text>
<text x="886" y="2789" font-size="32" textLength="303" lengthAdjust="spacingAndGlyphs">AC CH 13-16 SUM OUT</text>
<use xlink:href="#sum"/>
<use xlink:href="#sum" x="638" y="-5"/>
<use xlink:href="#sum" x="20" y="320"/>
<use xlink:href="#sum" x="641" y="315"/>
<g class="s"><text class="s" x="138" y="2599" text-anchor="end">AC-OUT-CH1</text><text class="s" x="138" y="2629" text-anchor="end">AC-OUT-CH2</text><text class="s" x="138" y="2659" text-anchor="end">AC-OUT-CH3</text><text class="s" x="138" y="2689" text-anchor="end">AC-OUT-CH4</text>
<text class="s" x="776" y="2594" text-anchor="end">AC-OUT-CH5</text><text class="s" x="776" y="2624" text-anchor="end">AC-OUT-CH6</text><text class="s" x="776" y="2654" text-anchor="end">AC-OUT-CH7</text><text class="s" x="776" y="2684" text-anchor="end">AC-OUT-CH8</text>
<text class="s" x="158" y="2919" text-anchor="end">AC-OUT-CH9</text><text class="s" x="158" y="2949" text-anchor="end">AC-OUT-CH10</text><text class="s" x="158" y="2979" text-anchor="end">AC-OUT-CH11</text><text class="s" x="158" y="3009" text-anchor="end">AC-OUT-CH12</text>
<text class="s" x="779" y="2914" text-anchor="end">AC-OUT-CH13</text><text class="s" x="779" y="2944" text-anchor="end">AC-OUT-CH14</text><text class="s" x="779" y="2974" text-anchor="end">AC-OUT-CH15</text><text class="s" x="779" y="3004" text-anchor="end">AC-OUT-CH16</text></g>
<g class="t"><text class="t" x="280" y="2586">OPA846</text><text class="t" x="577" y="2618">J38</text><text class="t" x="577" y="2632">CONREVSMA001</text><text class="t" x="918" y="2581">OPA846</text><text class="t" x="1215" y="2613">J40</text><text class="t" x="1215" y="2627">CONREVSMA001</text><text class="t" x="300" y="2906">OPA846</text><text class="t" x="597" y="2938">J39</text><text class="t" x="597" y="2952">CONREVSMA001</text><text class="t" x="921" y="2901">OPA846</text><text class="t" x="1218" y="2933">J41</text><text class="t" x="1218" y="2947">CONREVSMA001</text></g>

<!-- loose net labels middle column -->
<g>
<use xlink:href="#nl" x="1497" y="190"/><use xlink:href="#nl" x="1497" y="290"/><use xlink:href="#nl" x="1497" y="389"/><use xlink:href="#nl" x="1497" y="464"/><use xlink:href="#nl" x="1497" y="565"/><use xlink:href="#nl" x="1497" y="665"/><use xlink:href="#nl" x="1497" y="745"/><use xlink:href="#nl" x="1497" y="845"/><use xlink:href="#nl" x="1497" y="944"/><use xlink:href="#nl" x="1497" y="1021"/><use xlink:href="#nl" x="1497" y="1120"/><use xlink:href="#nl" x="1497" y="1220"/><use xlink:href="#nl" x="1497" y="1295"/><use xlink:href="#nl" x="1497" y="1396"/><use xlink:href="#nl" x="1497" y="1494"/><use xlink:href="#nl" x="1497" y="1576"/><use xlink:href="#nl" x="1497" y="1675"/><use xlink:href="#nl" x="1497" y="1775"/>
</g>
<g class="s"><text class="s" x="1496" y="193" text-anchor="end">DC-OUT-CH11</text><text class="s" x="1496" y="293" text-anchor="end">P11-V</text><text class="s" x="1496" y="392" text-anchor="end">AC-OUT-CH11</text><text class="s" x="1496" y="467" text-anchor="end">DC-OUT-CH12</text><text class="s" x="1496" y="568" text-anchor="end">P12-V</text><text class="s" x="1496" y="668" text-anchor="end">AC-OUT-CH12</text><text class="s" x="1496" y="748" text-anchor="end">DC-OUT-CH13</text><text class="s" x="1496" y="848" text-anchor="end">P13-V</text><text class="s" x="1496" y="947" text-anchor="end">AC-OUT-CH13</text><text class="s" x="1496" y="1024" text-anchor="end">DC-OUT-CH14</text><text class="s" x="1496" y="1123" text-anchor="end">P14-V</text><text class="s" x="1496" y="1223" text-anchor="end">AC-OUT-CH14</text><text class="s" x="1496" y="1298" text-anchor="end">DC-OUT-CH15</text><text class="s" x="1496" y="1399" text-anchor="end">P15-V</text><text class="s" x="1496" y="1497" text-anchor="end">AC-OUT-CH15</text><text class="s" x="1496" y="1579" text-anchor="end">DC-OUT-CH16</text><text class="s" x="1496" y="1678" text-anchor="end">P16-V</text><text class="s" x="1496" y="1778" text-anchor="end">AC-OUT-CH16</text></g>
<!-- right column -->
<g>
<use xlink:href="#nl" x="2571" y="700"/><use xlink:href="#nl" x="2571" y="801"/><use xlink:href="#nl" x="2571" y="900"/><use xlink:href="#nl" x="2561" y="1011"/><use xlink:href="#nl" x="2561" y="1110"/><use xlink:href="#nl" x="2561" y="1211"/><use xlink:href="#nl" x="2561" y="1286"/><use xlink:href="#nl" x="2561" y="1384"/><use xlink:href="#nl" x="2561" y="1485"/><use xlink:href="#nl" x="2561" y="1565"/><use xlink:href="#nl" x="2561" y="1665"/><use xlink:href="#nl" x="2561" y="1765"/><use xlink:href="#nl" x="2561" y="1857"/><use xlink:href="#nl" x="2561" y="1955"/><use xlink:href="#nl" x="2561" y="2056"/><use xlink:href="#nl" x="2561" y="2131"/><use xlink:href="#nl" x="2561" y="2231"/><use xlink:href="#nl" x="2561" y="2330"/><use xlink:href="#nl" x="2561" y="2411"/><use xlink:href="#nl" x="2561" y="2510"/><use xlink:href="#nl" x="2561" y="2611"/><use xlink:href="#nl" x="2561" y="2690"/><use xlink:href="#nl" x="2561" y="2790"/><use xlink:href="#nl" x="2561" y="2890"/>
</g>
<g class="s"><text class="s" x="2570" y="703" text-anchor="end">DC-OUT-CH3</text><text class="s" x="2570" y="804" text-anchor="end">P3-V</text><text class="s" x="2570" y="903" text-anchor="end">AC-OUT-CH3</text><text class="s" x="2560" y="1014" text-anchor="end">DC-OUT-CH4</text><text class="s" x="2560" y="1113" text-anchor="end">P4-V</text><text class="s" x="2560" y="1214" text-anchor="end">AC-OUT-CH4</text><text class="s" x="2560" y="1289" text-anchor="end">DC-OUT-CH5</text><text class="s" x="2560" y="1387" text-anchor="end">P5-V</text><text class="s" x="2560" y="1488" text-anchor="end">AC-OUT-CH5</text><text class="s" x="2560" y="1568" text-anchor="end">DC-OUT-CH6</text><text class="s" x="2560" y="1668" text-anchor="end">P6-V</text><text class="s" x="2560" y="1768" text-anchor="end">AC-OUT-CH6</text><text class="s" x="2560" y="1860" text-anchor="end">DC-OUT-CH7</text><text class="s" x="2560" y="1958" text-anchor="end">P7-V</text><text class="s" x="2560" y="2059" text-anchor="end">AC-OUT-CH7</text><text class="s" x="2560" y="2134" text-anchor="end">DC-OUT-CH8</text><text class="s" x="2560" y="2234" text-anchor="end">P8-V</text><text class="s" x="2560" y="2333" text-anchor="end">AC-OUT-CH8</text><text class="s" x="2560" y="2414" text-anchor="end">DC-OUT-CH9</text><text class="s" x="2560" y="2513" text-anchor="end">P9-V</text><text class="s" x="2560" y="2614" text-anchor="end">AC-OUT-CH9</text><text class="s" x="2560" y="2693" text-anchor="end">DC-OUT-CH10</text><text class="s" x="2560" y="2793" text-anchor="end">P10-V</text><text class="s" x="2560" y="2893" text-anchor="end">AC-OUT-CH10</text></g>

<!-- AMP channels -->
<use xlink:href="#chg"/>
<use xlink:href="#chg" y="346"/>
<use xlink:href="#chg" y="696"/>
<use xlink:href="#nl" x="2944" y="169"/><use xlink:href="#nl" x="2944" y="290"/><use xlink:href="#nl" x="2944" y="409"/>
<use xlink:href="#nl" x="2944" y="515"/><use xlink:href="#nl" x="2944" y="636"/><use xlink:href="#nl" x="2944" y="755"/>
<g class="s" font-size="8"><text class="s" x="2943" y="172" text-anchor="end">DC-OUT-CH1</text><text class="s" x="2943" y="293" text-anchor="end">P1-V</text><text class="s" x="2943" y="412" text-anchor="end">AC-OUT-CH1</text><text class="s" x="2943" y="518" text-anchor="end">DC-OUT-CH2</text><text class="s" x="2943" y="639" text-anchor="end">P2-V</text><text class="s" x="2943" y="758" text-anchor="end">AC-OUT-CH2</text></g>
<g font-size="14">
<text x="3131" y="151" font-size="14" textLength="136" lengthAdjust="spacingAndGlyphs">Trans Impedance Amp.</text><text x="3355" y="152" font-size="15" textLength="118" lengthAdjust="spacingAndGlyphs">Amplifier Inverter</text><text x="3915" y="139" font-size="16" textLength="124" lengthAdjust="spacingAndGlyphs">Center Frequency</text><text x="4500" y="139" font-size="16" textLength="74" lengthAdjust="spacingAndGlyphs">buffer/amp</text>
<text x="3131" y="497" font-size="14" textLength="136" lengthAdjust="spacingAndGlyphs">Trans Impedance Amp.</text><text x="3355" y="498" font-size="15" textLength="118" lengthAdjust="spacingAndGlyphs">Amplifier Inverter</text><text x="3915" y="485" font-size="16" textLength="124" lengthAdjust="spacingAndGlyphs">Center Frequency</text><text x="4500" y="485" font-size="16" textLength="74" lengthAdjust="spacingAndGlyphs">buffer/amp</text>
<text x="3131" y="847" font-size="14" textLength="136" lengthAdjust="spacingAndGlyphs">Trans Impedance Amp.</text><text x="3355" y="848" font-size="15" textLength="118" lengthAdjust="spacingAndGlyphs">Amplifier Inverter</text><text x="3915" y="835" font-size="16" textLength="124" lengthAdjust="spacingAndGlyphs">Center Frequency</text><text x="4500" y="835" font-size="16" textLength="74" lengthAdjust="spacingAndGlyphs">buffer/amp</text>
</g>
<g class="s" font-size="7"><text class="s" x="3842" y="109" font-size="7">CH</text><text class="s" x="3838" y="430" font-size="7">Channel</text><text class="s" x="3842" y="455" font-size="7">CH1</text><text class="s" x="3838" y="776" font-size="7">Channel</text><text class="s" x="3842" y="805" font-size="7">CH2</text><text class="s" x="3838" y="1126" font-size="7">Channel</text></g>
<g class="t">
<text class="t" x="3060" y="250">U12.2</text><text class="t" x="3060" y="262">OPA1612AID</text><text class="t" x="3380" y="240">U12.1</text><text class="t" x="3380" y="252">OPA1612AID</text><text class="t" x="4520" y="258">U17 OPA1611AID</text>
<text class="t" x="3060" y="596">U19.2</text><text class="t" x="3060" y="608">OPA1612AID</text><text class="t" x="3380" y="586">U18.1</text><text class="t" x="3380" y="598">OPA1612AID</text><text class="t" x="4520" y="604">U24 OPA1611AID</text>
<text class="t" x="3060" y="946">U25.2</text><text class="t" x="3060" y="958">OPA1612AID</text><text class="t" x="3380" y="936">U25.1</text><text class="t" x="3380" y="948">OPA1612AID</text><text class="t" x="4520" y="954">U31 OPA1611AID</text>
<text class="t" x="3130" y="290">+12V</text><text class="t" x="3130" y="630">+12V</text><text class="t" x="3130" y="980">+12V</text><text class="t" x="3135" y="345">-12V</text><text class="t" x="3135" y="691">-12V</text><text class="t" x="3135" y="1041">-12V</text>
<text class="t" x="3490" y="285">R101 10.2K</text><text class="t" x="3735" y="285">R107 5.49K</text><text class="t" x="3968" y="285">R113 7.87K</text><text class="t" x="4200" y="285">R119 2.05K</text><text class="t" x="4624" y="285">R133 47</text>
<text class="t" x="3490" y="631">R96 10.2K</text><text class="t" x="3735" y="631">R118 5.49K</text><text class="t" x="3968" y="631">R120 7.87K</text><text class="t" x="4200" y="631">R122 2.05K</text><text class="t" x="4624" y="631">R90 47</text>
<text class="t" x="3490" y="981">R136 10.2K</text><text class="t" x="3735" y="981">R148 5.49K</text><text class="t" x="3968" y="981">R149 7.87K</text><text class="t" x="4200" y="981">R150 2.05K</text><text class="t" x="4624" y="981">R132 47</text>
</g>
</svg>
</body></html>
